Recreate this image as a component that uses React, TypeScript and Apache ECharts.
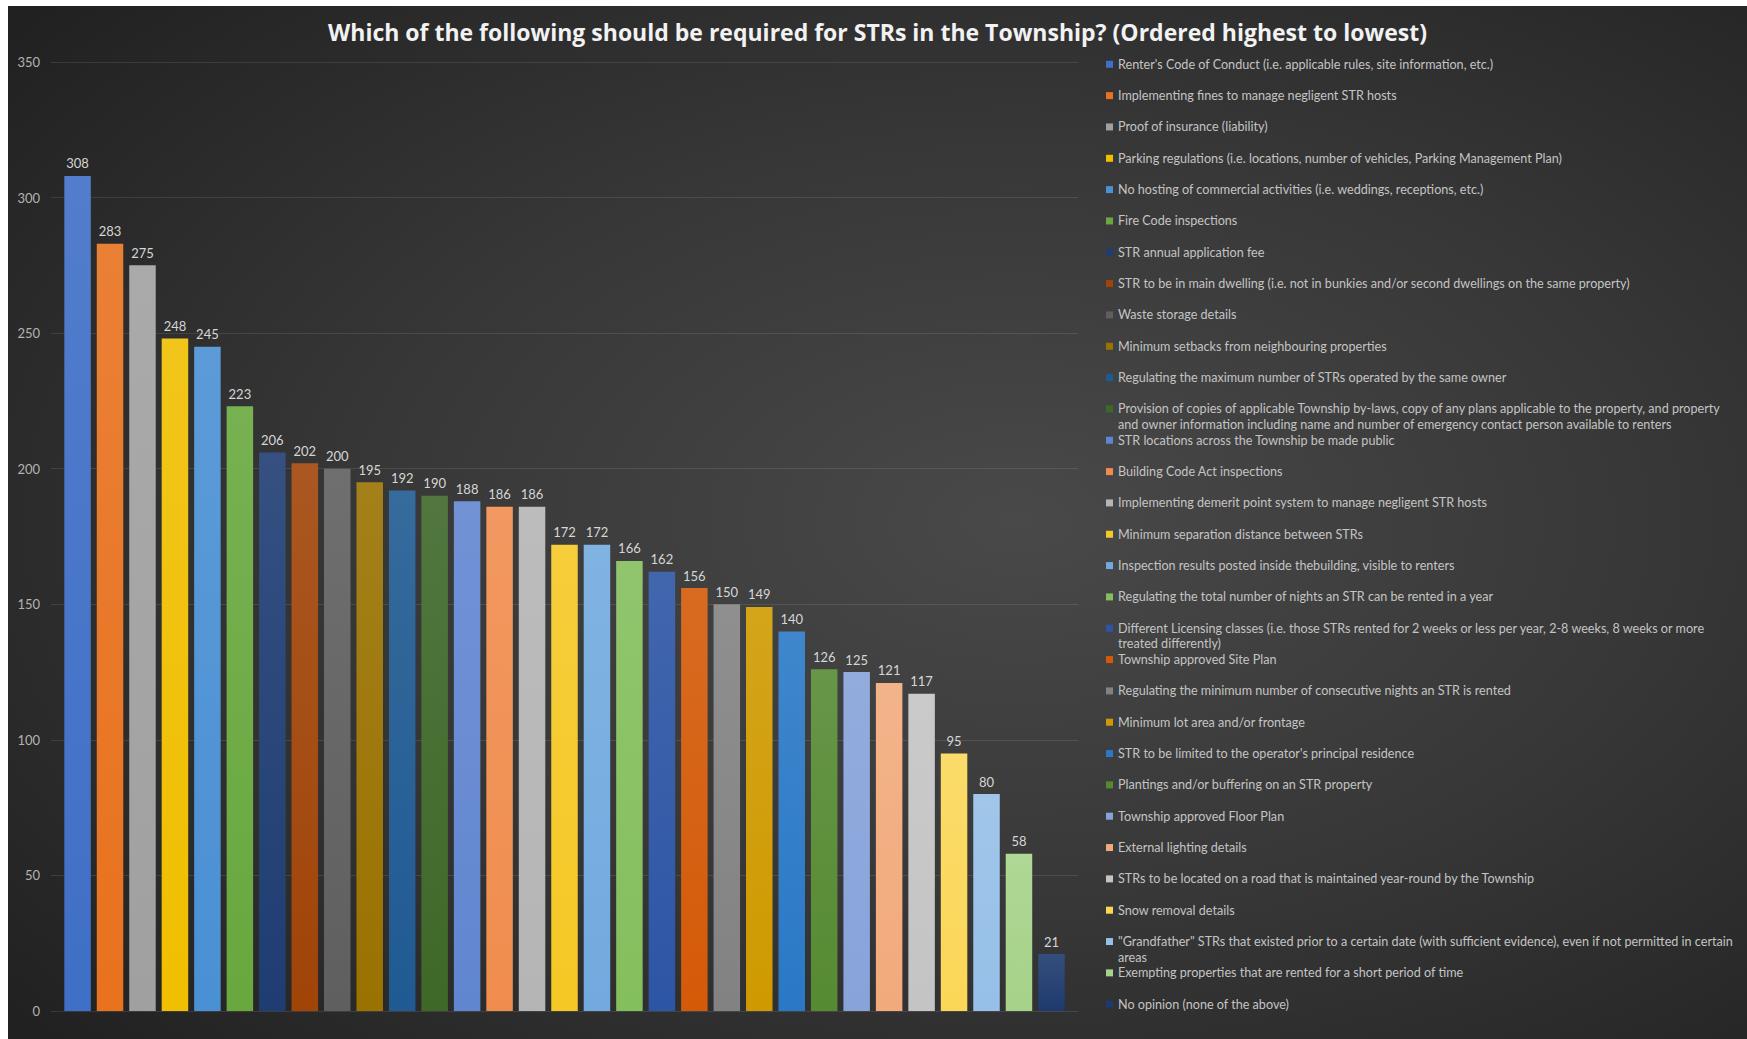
import React, { useEffect, useRef } from "react";
import * as echarts from "echarts";

const chartTitle =
  "Which of the following should be required for STRs in the Township? (Ordered highest to lowest)";

const categories: string[] = [
  "Renter's Code of Conduct (i.e. applicable rules, site information, etc.)",
  "Implementing fines to manage negligent STR hosts",
  "Proof of insurance (liability)",
  "Parking regulations (i.e. locations, number of vehicles, Parking Management Plan)",
  "No hosting of commercial activities (i.e. weddings, receptions, etc.)",
  "Fire Code inspections",
  "STR annual application fee",
  "STR to be in main dwelling (i.e. not in bunkies and/or second dwellings on the same property)",
  "Waste storage details",
  "Minimum setbacks from neighbouring properties",
  "Regulating the maximum number of STRs operated by the same owner",
  "Provision of copies of applicable Township by-laws, copy of any plans applicable to the property, and property and owner information including name and number of emergency contact person available to renters",
  "STR locations across the Township be made public",
  "Building Code Act inspections",
  "Implementing demerit point system to manage negligent STR hosts",
  "Minimum separation distance between STRs",
  "Inspection results posted inside thebuilding, visible to renters",
  "Regulating the total number of nights an STR can be rented in a year",
  "Different Licensing classes (i.e. those STRs rented for 2 weeks or less per year, 2-8 weeks, 8 weeks or more treated differently)",
  "Township approved Site Plan",
  "Regulating the minimum number of consecutive nights an STR is rented",
  "Minimum lot area and/or frontage",
  "STR to be limited to the operator's principal residence",
  "Plantings and/or buffering on an STR property",
  "Township approved Floor Plan",
  "External lighting details",
  "STRs to be located on a road that is maintained year-round by the Township",
  "Snow removal details",
  "\"Grandfather\" STRs that existed prior to a certain date (with sufficient evidence), even if not permitted in certain areas",
  "Exempting properties that are rented for a short period of time",
  "No opinion (none of the above)",
];

const values: number[] = [
  308, 283, 275, 248, 245, 223, 206, 202, 200, 195, 192, 190, 188, 186, 186, 172,
  172, 166, 162, 156, 150, 149, 140, 126, 125, 121, 117, 95, 80, 58, 21,
];

const barColors: string[] = [
  "#3f6fc6", "#e8721e", "#a0a0a0", "#f0bf00", "#4a90d4", "#68a83e", "#1f3d73",
  "#a04408", "#5f5f5f", "#9a7200", "#1f5a92", "#3e6828", "#6186d0", "#f08d4e",
  "#b5b5b5", "#f5c825", "#72aadf", "#84bf5d", "#2d55a5", "#d45a08", "#828282",
  "#cf9a00", "#2a78c6", "#568a32", "#87a3da", "#f2aa7c", "#c4c4c4", "#fbd758",
  "#96c0e8", "#a6d289", "#1e3a6e",
];

// legend entries that wrap onto a second line: index -> [first line, second line]
const wrappedLegend: Record<number, [string, string]> = {
  11: [
    "Provision of copies of applicable Township by-laws, copy of any plans applicable to the property, and property",
    "and owner information including name and number of emergency contact person available to renters",
  ],
  18: [
    "Different Licensing classes (i.e. those STRs rented for 2 weeks or less per year, 2-8 weeks, 8 weeks or more",
    "treated differently)",
  ],
  28: [
    "\"Grandfather\" STRs that existed prior to a certain date (with sufficient evidence), even if not permitted in certain",
    "areas",
  ],
};

const yMin = 0;
const yMax = 350;
const yInterval = 50;

function lighten(hex: string, amt: number): string {
  const n = parseInt(hex.slice(1), 16);
  const r = (n >> 16) & 255;
  const g = (n >> 8) & 255;
  const b = n & 255;
  const f = (c: number) => Math.round(c + (255 - c) * amt);
  return "#" + [f(r), f(g), f(b)].map((c) => c.toString(16).padStart(2, "0")).join("");
}

const W = 1739;
const H = 1033;
const LEGEND_LEFT = 1098;
const LEGEND_FIRST_CENTER = 58.3;
const LEGEND_STEP = 31.33;
const LEGEND_LINE = 16;
const LEGEND_FONT = 12.6;

export default function App() {
  const ref = useRef<HTMLDivElement>(null);

  useEffect(() => {
    if (!ref.current) return;
    const chart = echarts.init(ref.current, undefined, { renderer: "svg" });

    const series = categories.map((name, i) => ({
      type: "bar",
      name,
      data: [values[i]],
      barWidth: 26.5,
      barGap: "22.5%",
      itemStyle: {
        color: new echarts.graphic.LinearGradient(0, 0, 0, 1, [
          { offset: 0, color: lighten(barColors[i], 0.1) },
          { offset: 1, color: barColors[i] },
        ]),
      },
      label: {
        show: true,
        position: "top",
        distance: 6,
        color: "#d6d6d6",
        fontSize: 13,
        fontFamily: "Lato, sans-serif",
      },
    }));

    const secondLines = Object.keys(wrappedLegend).map((k) => {
      const i = Number(k);
      return {
        type: "text",
        left: LEGEND_LEFT + 12,
        top: LEGEND_FIRST_CENTER + LEGEND_STEP * i + 15.6 - LEGEND_LINE / 2,
        silent: true,
        style: {
          text: wrappedLegend[i][1],
          fill: "#c4c4c4",
          fontSize: LEGEND_FONT,
          fontFamily: "Lato, sans-serif",
          lineHeight: LEGEND_LINE,
        },
      };
    });

    chart.setOption({
      animation: false,
      graphic: [
        {
          type: "rect",
          z: -100,
          silent: true,
          shape: { x: 0, y: 0, width: W, height: H },
          style: {
            fill: new echarts.graphic.RadialGradient(0.58, 0.5, 0.75, [
              { offset: 0, color: "#494949" },
              { offset: 0.5, color: "#373737" },
              { offset: 1, color: "#212121" },
            ]),
          },
        },
        ...secondLines,
      ],
      title: {
        text: chartTitle,
        left: "center",
        top: 13,
        padding: 0,
        textStyle: {
          color: "#f2f2f2",
          fontSize: 23,
          fontWeight: "bold",
          fontFamily: "'Open Sans', sans-serif",
          lineHeight: 26,
        },
      },
      legend: {
        orient: "vertical",
        left: LEGEND_LEFT,
        top: LEGEND_FIRST_CENTER - LEGEND_LINE / 2,
        padding: 0,
        itemWidth: 7,
        itemHeight: 7,
        itemGap: LEGEND_STEP - LEGEND_LINE,
        icon: "rect",
        selectedMode: false,
        data: categories.map((name, i) => ({ name, itemStyle: { color: barColors[i] } })),
        formatter: (name: string) => {
          const i = categories.indexOf(name);
          return wrappedLegend[i] ? wrappedLegend[i][0] : name;
        },
        textStyle: {
          color: "#c4c4c4",
          fontSize: LEGEND_FONT,
          fontFamily: "Lato, sans-serif",
          lineHeight: LEGEND_LINE,
        },
      },
      grid: { left: 43, right: 669, top: 56, bottom: 28, containLabel: false },
      xAxis: {
        type: "category",
        data: [""],
        axisLine: { show: false },
        axisTick: { show: false },
        axisLabel: { show: false },
      },
      yAxis: {
        type: "value",
        min: yMin,
        max: yMax,
        interval: yInterval,
        axisLine: { show: false },
        axisTick: { show: false },
        axisLabel: {
          color: "#b3b3b3",
          fontSize: 13,
          margin: 11,
          fontFamily: "Lato, sans-serif",
        },
        splitLine: { lineStyle: { color: "rgba(255,255,255,0.1)", width: 1 } },
      },
      series,
    });

    return () => chart.dispose();
  }, []);

  return (
    <div
      ref={ref}
      style={{ position: "absolute", left: 8, top: 6, width: W, height: H }}
    />
  );
}
